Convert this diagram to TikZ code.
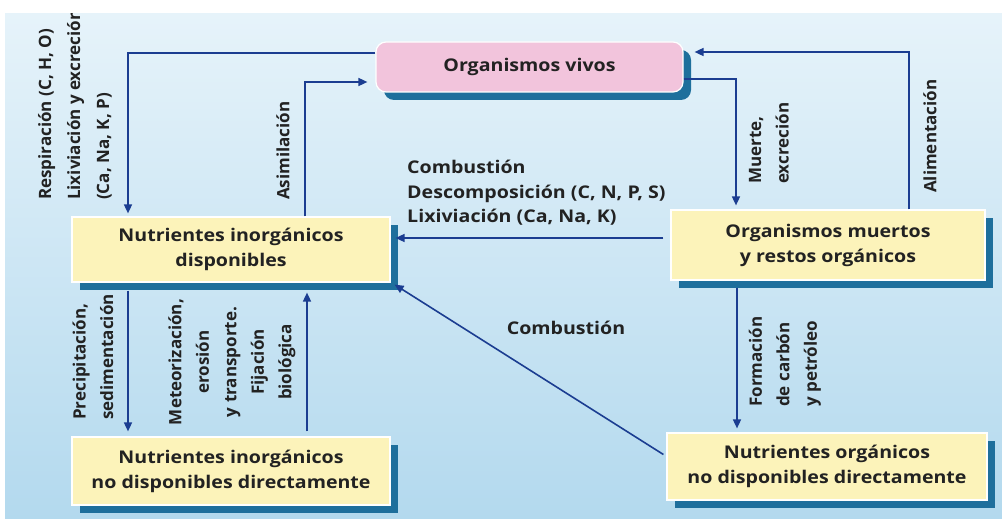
\documentclass[tikz,border=0pt]{standalone}
\usepackage{fontspec}
\setmainfont{Open Sans}
\newfontfamily\hfont{Open Sans}[FakeStretch=1.12]
\usetikzlibrary{arrows.meta,shadows,calc}
\definecolor{bgtop}{HTML}{E6F3FA}
\definecolor{bgbot}{HTML}{B3D9EE}
\definecolor{boxyellow}{HTML}{FCF3BA}
\definecolor{boxpink}{HTML}{F2C4DC}
\definecolor{shadowblue}{HTML}{1E6F9C}
\definecolor{linecol}{HTML}{1B3D91}
\definecolor{txt}{HTML}{222222}
\begin{document}
\begin{tikzpicture}[x=1pt,y=-1pt,
  box/.style={fill=boxyellow, draw=white, line width=1.2pt, align=center, inner sep=0pt,
    font=\hfont\bfseries\fontsize{17.5}{25}\selectfont, text=txt,
    drop shadow={shadow xshift=8pt, shadow yshift=-8pt, fill=shadowblue, opacity=1}},
  lbl/.style={font=\bfseries\fontsize{17}{27.5}\selectfont, text=txt, inner sep=0pt},
  hlbl/.style={font=\hfont\bfseries\fontsize{17.5}{24.5}\selectfont, text=txt, inner sep=0pt},
  flow/.style={draw=linecol, line width=1.6pt, -{Triangle[length=9pt,width=8pt]}}]
\useasboundingbox (0,0) rectangle (1002,519);
\fill[white] (0,0) rectangle (1002,519);
\shade[top color=bgtop, bottom color=bgbot] (5,14) rectangle (1002,519);

% boxes
\node[box, fill=boxpink, rounded corners=10pt, minimum width=307pt, minimum height=50pt] (vivos) at (529.5,67) {Organismos vivos};
\node[box, minimum width=318pt, minimum height=65pt] (disp) at (231,249.5) {Nutrientes inorgánicos\\disponibles};
\node[box, minimum width=314pt, minimum height=70pt] (muertos) at (828,245) {Organismos muertos\\y restos orgánicos};
\node[box, minimum width=318pt, minimum height=68pt] (inorg) at (231,471) {Nutrientes inorgánicos\\no disponibles directamente};
\node[box, minimum width=320pt, minimum height=67pt] (org) at (827,466.5) {Nutrientes orgánicos\\no disponibles directamente};

% connectors
\draw[flow, shorten >=3pt] ([yshift=14pt]vivos.west) -| ([xshift=-103pt]disp.north);
\draw[flow, shorten >=8pt] ([xshift=74pt]disp.north) |- ([yshift=-15pt]vivos.west);
\draw[flow, shorten >=11pt] ([xshift=81pt]muertos.north) |- ([yshift=15pt]vivos.east);
\draw[flow, shorten >=4pt] ([yshift=-12pt]vivos.east) -| ([xshift=-92pt]muertos.north);
\coordinate (c5) at ([xshift=-7pt,yshift=7pt]muertos.west);
\draw[flow] (c5) -- ([xshift=5pt]c5 -| disp.east);
\draw[flow, shorten >=5pt] ([xshift=-103pt,yshift=-8pt]disp.south) -- ([xshift=-103pt]inorg.north);
\draw[flow] ([xshift=76pt,yshift=5pt]inorg.north) -- ([xshift=76pt,yshift=-10pt]disp.south);
\coordinate (c8) at ([xshift=-91pt,yshift=-7pt]muertos.south);
\draw[flow, shorten >=4pt] (c8) -- (c8 |- org.north);
\draw[flow] ([xshift=-3pt,yshift=12pt]org.west) -- ([xshift=4pt,yshift=-2pt]disp.south east);

% labels
\begin{scope}
\clip (5,14) rectangle (1002,519);
\node[lbl, rotate=90, anchor=west, align=left, font=\bfseries\fontsize{17}{29}\selectfont] (lresp) at (75,200) {Respiración (C, H, O)\\Lixiviación y excreción\\(Ca, Na, K, P)};
\end{scope}
\node[lbl, rotate=90, anchor=west] (lasim) at (283,200) {Asimilación};
\node[lbl, rotate=90, anchor=west, align=left] (lmuerte) at (769,184) {Muerte,\\excreción};
\node[lbl, rotate=90, anchor=west] (lalim) at (930,193) {Alimentación};
\node[hlbl, anchor=north west, align=left] (lcomb) at (407,160) {Combustión\\Descomposición (C, N, P, S)\\Lixiviación (Ca, Na, K)};
\node[hlbl, anchor=center] (lcomb2) at (566,328) {Combustión};
\node[lbl, rotate=90, anchor=west, align=left] (lprec) at (93,420) {Precipitación,\\sedimentación};
\node[lbl, rotate=90, anchor=center, align=center] (lmet) at (232,362) {Meteorización,\\erosión\\y transporte.\\Fijación\\biológica};
\node[lbl, rotate=90, anchor=west, align=left] (lform) at (785,407) {Formación\\de carbón\\y petróleo};
\end{tikzpicture}
\end{document}
